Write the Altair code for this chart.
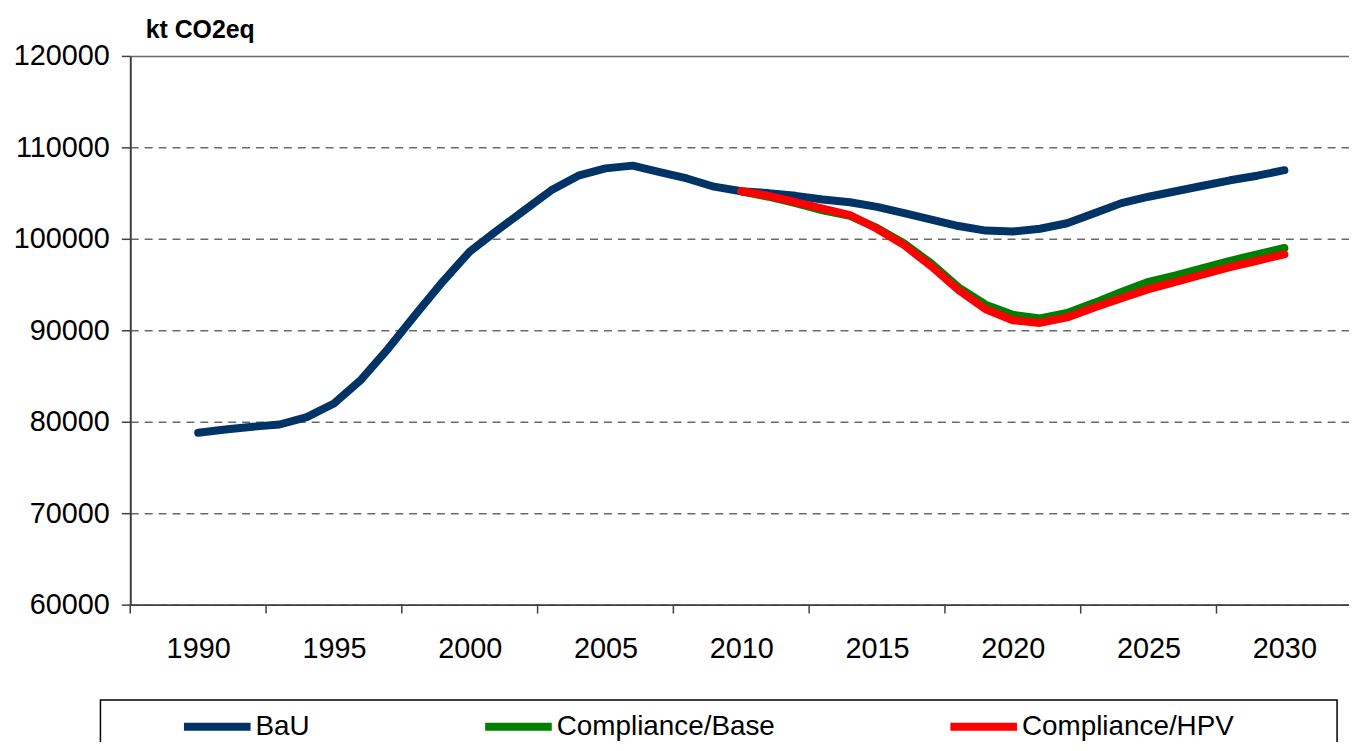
import altair as alt
import pandas as pd

# ---- data ----
years_bau = list(range(1990, 2031))
bau = [78800, 79150, 79450, 79700, 80500, 82000, 84600, 88000, 91700, 95300,
       98600, 100900, 103100, 105300, 106900, 107700, 108000, 107300, 106600, 105700,
       105200, 105000, 104700, 104300, 104000, 103500, 102800, 102100, 101400, 100900,
       100800, 101100, 101700, 102800, 103900, 104600, 105200, 105800, 106400, 106900,
       107500]

years_comp = list(range(2010, 2031))
comp_base = [105200, 104600, 103900, 103100, 102500, 101200, 99500, 97300, 94700, 92800,
             91700, 91300, 91900, 93000, 94200, 95300, 96000, 96800, 97600, 98300,
             99000]
comp_hpv = [105200, 104700, 104000, 103300, 102600, 101100, 99300, 97000, 94400, 92300,
            91100, 90800, 91400, 92500, 93500, 94500, 95300, 96100, 96900, 97600,
            98300]

series_names = ["BaU", "Compliance/Base", "Compliance/HPV"]
series_colors = ["#003366", "#008000", "#FF0000"]

x_label_years = [1990, 1995, 2000, 2005, 2010, 2015, 2020, 2025, 2030]
x_tick_years = [1987.5, 1992.5, 1997.5, 2002.5, 2007.5, 2012.5, 2017.5, 2022.5, 2027.5]
y_ticks = [60000, 70000, 80000, 90000, 100000, 110000, 120000]
y_title = "kt CO2eq"

rows = []
for y, v in zip(years_bau, bau):
    rows.append({"year": y, "value": v, "series": series_names[0]})
for y, v in zip(years_comp, comp_base):
    rows.append({"year": y, "value": v, "series": series_names[1]})
for y, v in zip(years_comp, comp_hpv):
    rows.append({"year": y, "value": v, "series": series_names[2]})
df = pd.DataFrame(rows)

FONT = "Liberation Sans"
x_scale = alt.Scale(domain=[1987.5, 2032.38], nice=False, zero=False)
y_scale = alt.Scale(domain=[60000, 120000], nice=False, zero=False)

x_axis = alt.Axis(values=x_label_years, format="d", ticks=False, tickSize=0,
                  labelFontSize=29, labelFont=FONT, labelColor="black",
                  labelPadding=30, grid=False, domainColor="#404040",
                  domainWidth=2, title=None)

lines = alt.Chart(df).mark_line(strokeWidth=8, strokeCap="round", strokeJoin="round").encode(
    x=alt.X("year:Q", scale=x_scale, axis=x_axis),
    y=alt.Y("value:Q", scale=y_scale,
            axis=alt.Axis(values=y_ticks, format="d", labelFontSize=29, labelFont=FONT,
                          labelColor="black", labelPadding=12, tickSize=9,
                          tickColor="#404040", tickWidth=1.5, domainColor="#404040",
                          domainWidth=2, grid=True, gridColor="#6a6a6a", gridWidth=1.5,
                          gridDash={"condition": {"test": "datum.value === 120000", "value": []},
                                    "value": [8, 6]},
                          title=y_title, titleAngle=0, titleAlign="left",
                          titleBaseline="alphabetic", titleX=15, titleY=-19,
                          titleFontSize=25, titleFontWeight="bold", titleFont=FONT,
                          titleColor="black")),
    color=alt.Color("series:N",
                    scale=alt.Scale(domain=series_names, range=series_colors),
                    legend=alt.Legend(orient="none", legendX=50, legendY=637,
                                      direction="horizontal", title=None,
                                      symbolType="stroke", symbolStrokeWidth=8,
                                      symbolSize=4489, labelFontSize=28,
                                      labelFont=FONT, labelColor="black",
                                      labelLimit=500,
                                      columnPadding=160, labelOffset=1, padding=0)),
)

ticks = alt.Chart(pd.DataFrame({"year": x_tick_years})).mark_rule(
    color="#404040", strokeWidth=1.5).encode(
    x=alt.X("year:Q", scale=x_scale, axis=x_axis),
    y=alt.value(552), y2=alt.value(561))

frame = alt.Chart(alt.Data(values=[{"k": 1}])).mark_rect(
    fillOpacity=0, stroke="black", strokeWidth=1.5).encode(
    x=alt.value(-30), x2=alt.value(1214), y=alt.value(648), y2=alt.value(720))

chart = alt.layer(ticks, lines, frame).properties(
    width=1226, height=552,
    autosize=alt.AutoSizeParams(type="none"),
    padding={"left": 123, "top": 46, "right": 0, "bottom": 136},
).configure_view(stroke=None).configure(background="white")

chart.save("out.html", embed_options={"renderer": "svg", "actions": False})
